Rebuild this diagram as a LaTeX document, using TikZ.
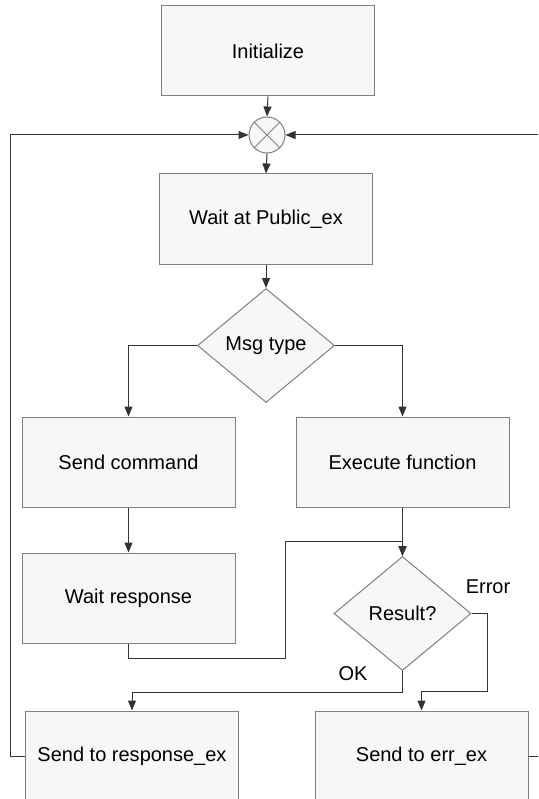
\documentclass[tikz,border=0pt]{standalone}
\usepackage{fontspec}
\setmainfont{Liberation Sans}
\usetikzlibrary{shapes.geometric,arrows.meta}
\definecolor{boxfill}{HTML}{F7F7F7}
\definecolor{boxline}{HTML}{808080}
\definecolor{conn}{HTML}{333333}
\begin{document}
\begin{tikzpicture}[x=1pt,y=-1pt,
  every node/.style={font=\fontsize{20}{24}\selectfont},
  procbox/.style={draw=boxline,fill=boxfill,line width=1pt,minimum width=213pt,minimum height=90pt,inner sep=0pt},
  decision/.style={draw=boxline,fill=boxfill,line width=1pt,diamond,minimum width=137pt,minimum height=114pt,aspect=1.2,inner sep=0pt},
  junction/.style={draw=boxline,fill=boxfill,line width=1pt,circle,minimum size=36pt,inner sep=0pt},
  conline/.style={draw=conn,line width=1pt},
  arrowline/.style={conline,-{Triangle[length=10pt,width=8pt]}},
  lbl/.style={inner sep=0pt}
]
\useasboundingbox (0,0) rectangle (538,799);
\clip (0,0) rectangle (538,799);
\fill[white] (0,0) rectangle (538,799);

\node[procbox] (init) at (268,51) {Initialize};
\node[junction] (circ) at (267,135) {};
\draw[boxline,line width=1pt] (circ.north west) -- (circ.south east) (circ.north east) -- (circ.south west);
\node[procbox] (wait) at (266,219) {Wait at Public\_ex};
\node[decision] (msg) at (266,345.5) {Msg type};
\node[procbox] (sendcmd) at (128.5,462) {Send command};
\node[procbox] (exec) at (402.5,462) {Execute function};
\node[procbox] (waitresp) at (128.5,598) {Wait response};
\node[decision] (result) at (402.5,613.5) {Result?};
\node[procbox] (respex) at (132,756) {Send to response\_ex};
\node[procbox] (errex) at (421.5,756) {Send to err\_ex};

\node[lbl] (err) at (488,587) {Error};
\node[lbl] (ok) at (353,674) {OK};

\coordinate (j1) at (285,541);

\draw[arrowline] (init.south) -- (circ.north);
\draw[arrowline] (circ.south) -- (wait.north);
\draw[arrowline] (wait.south) -- (msg.north);
\draw[arrowline] (msg.west) -| (sendcmd.north);
\draw[arrowline] (msg.east) -| (exec.north);
\draw[arrowline] (sendcmd.south) -- (waitresp.north);
\draw[arrowline] (exec.south) -- (result.north);
\draw[arrowline] (waitresp.south) -- ++(0,15) -| (j1) -| (result.north);
\draw[arrowline] (result.south) -- ++(0,21) -| (respex.north);
\draw[arrowline] (result.east) -- ++(16,0) -- ++(0,77.5) -| (errex.north);
\draw[arrowline] (respex.west) -- ++(-15,0) |- (circ.west);
\draw[arrowline] (errex.east) -- ++(25,0) |- (circ.east);
\end{tikzpicture}
\end{document}
